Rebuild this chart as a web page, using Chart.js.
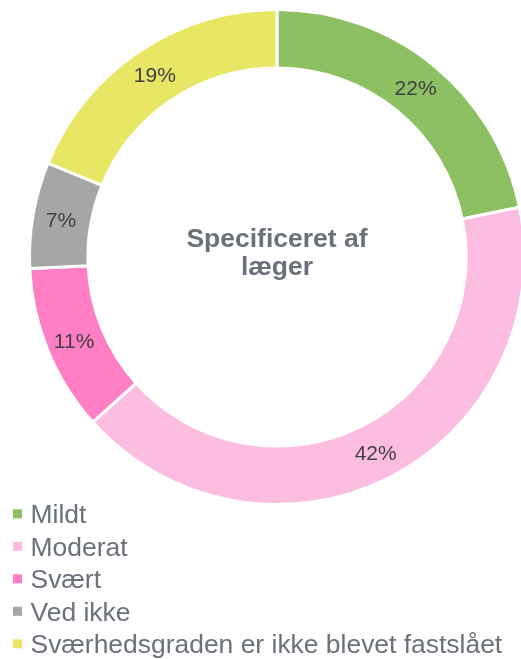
<!DOCTYPE html>
<html>
<head>
<meta charset="utf-8">
<script src="https://cdn.jsdelivr.net/npm/chart.js@4/dist/chart.umd.min.js"></script>
<style>
  html, body { margin: 0; padding: 0; background: #ffffff; }
  #wrap { position: relative; width: 521px; height: 659px; overflow: hidden; }
  canvas { display: block; }
</style>
</head>
<body>
<div id="wrap"><canvas id="c" width="527" height="659"></canvas></div>
<script>
const categories = ['Mildt', 'Moderat', 'Svært', 'Ved ikke', 'Sværhedsgraden er ikke blevet fastslået'];
const values = [22, 42, 11, 7, 19];
const colors = ['#8DC063', '#FDBDE1', '#FF7EC4', '#A6A6A6', '#E7E765'];
const centerLines = ['Specificeret af', 'læger'];

const FONT = '"Liberation Sans", Arial, sans-serif';

const sliceLabels = {
  id: 'sliceLabels',
  afterDatasetsDraw(chart) {
    const ctx = chart.ctx;
    const meta = chart.getDatasetMeta(0);
    ctx.save();
    ctx.fillStyle = '#404040';
    ctx.font = '21px ' + FONT;
    ctx.textAlign = 'center';
    ctx.textBaseline = 'alphabetic';
    meta.data.forEach((arc, i) => {
      const p = arc.getProps(['x', 'y', 'startAngle', 'endAngle', 'innerRadius', 'outerRadius'], true);
      const a = (p.startAngle + p.endAngle) / 2;
      const r = (p.innerRadius + p.outerRadius) / 2 + 1;
      ctx.fillText(chart.data.datasets[0].data[i] + '%', p.x + Math.cos(a) * r, p.y + Math.sin(a) * r + 7.5);
    });
    ctx.restore();
  }
};

const centerText = {
  id: 'centerText',
  afterDatasetsDraw(chart) {
    const ctx = chart.ctx;
    const arc = chart.getDatasetMeta(0).data[0];
    const p = arc.getProps(['x', 'y'], true);
    ctx.save();
    ctx.fillStyle = '#6A717A';
    ctx.font = 'bold 26.5px ' + FONT;
    ctx.textAlign = 'center';
    ctx.textBaseline = 'alphabetic';
    const lh = 28.5;
    const first = p.y - 10.3;
    centerLines.forEach((t, i) => ctx.fillText(t, p.x, first + i * lh));
    ctx.restore();
  }
};

const bottomLegend = {
  id: 'bottomLegend',
  afterDraw(chart) {
    const ctx = chart.ctx;
    const ds = chart.data.datasets[0];
    ctx.save();
    ctx.font = '26.45px ' + FONT;
    ctx.textAlign = 'left';
    ctx.textBaseline = 'alphabetic';
    const top = 523.3, step = 32.5;
    chart.data.labels.forEach((lab, i) => {
      const base = top + i * step;
      ctx.fillStyle = ds.backgroundColor[i];
      ctx.fillRect(13, base - 14, 9, 9);
      ctx.fillStyle = '#6A717A';
      ctx.fillText(lab, 30.5, base);
    });
    ctx.restore();
  }
};

new Chart(document.getElementById('c'), {
  type: 'doughnut',
  data: {
    labels: categories,
    datasets: [{
      data: values,
      backgroundColor: colors,
      borderColor: '#ffffff',
      borderWidth: 3,
      hoverOffset: 0
    }]
  },
  options: {
    responsive: false,
    animation: false,
    cutout: '76.4%',
    layout: { padding: { left: 28, right: 1, top: 8, bottom: 153 } },
    plugins: {
      legend: { display: false },
      tooltip: { enabled: false }
    }
  },
  plugins: [sliceLabels, centerText, bottomLegend]
});
</script>
</body>
</html>
